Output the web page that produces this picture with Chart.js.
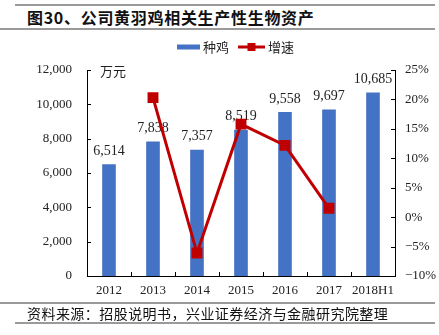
<!DOCTYPE html>
<html>
<head>
<meta charset="utf-8">
<script src="https://cdn.jsdelivr.net/npm/chart.js@4/dist/chart.umd.min.js"></script>
<style>
  body { margin: 0; background: #fff; }
  #wrap { position: relative; width: 439px; height: 335px; overflow: hidden; }
  #wrap canvas { position: absolute; left: 0; top: 0; }
  .rule { position: absolute; height: 2px; background: #9a9a9a; }
  .txt { position: absolute; font-family: "Noto Sans CJK SC", sans-serif; color: #111; white-space: nowrap; }
</style>
</head>
<body>
<div id="wrap">
  <div class="rule" style="left:15px; top:4px; width:420px;"></div>
  <div class="txt" style="left:27px; top:6px; font-size:16px; line-height:22px; letter-spacing:0.7px; font-weight:bold;">图30、公司黄羽鸡相关生产性生物资产</div>
  <div class="rule" style="left:0; top:28px; width:435px;"></div>
  <canvas id="chart" width="439" height="335"></canvas>
  <div class="rule" style="left:0; top:302px; width:435px;"></div>
  <div class="txt" style="left:27px; top:304px; font-size:14px; line-height:18px; letter-spacing:0.45px;">资料来源：招股说明书，兴业证券经济与金融研究院整理</div>
  <div class="rule" style="left:15px; top:322px; width:420px;"></div>
</div>

<script>
// =======================================
// DATA
// =======================================

const years = ["2012", "2013", "2014", "2015", "2016", "2017", "2018H1"];

const breeders = [6514, 7838, 7357, 8519, 9558, 9697, 10685];   // 种鸡, 万元

const growth = [null, 20.3, -6.1, 15.8, 12.2, 1.5, null];      // 增速, %

const barColor = "#4472C4";
const lineColor = "#C00000";
const serif = "'Liberation Serif', 'Times New Roman', serif";
const cjk = "'Noto Sans CJK SC', sans-serif";


// =======================================
// EXTRA DRAWING (labels, ticks, legend)
// =======================================

const extras = {
    id: "extras",

    afterDatasetDraw(chart, args) {
        if (args.index !== 0) return;
        const ctx = chart.ctx;
        ctx.save();
        ctx.font = "14px " + serif;
        ctx.fillStyle = "#222";
        ctx.textAlign = "center";
        ctx.textBaseline = "middle";
        args.meta.data.forEach((bar, i) => {
            ctx.fillText(breeders[i].toLocaleString("en-US"), bar.x, bar.y - 13);
        });
        ctx.restore();
    },

    afterDraw(chart) {
        const ctx = chart.ctx;
        const a = chart.chartArea;
        const y = chart.scales.y, y1 = chart.scales.y1;

        ctx.save();
        ctx.strokeStyle = "#000";
        ctx.lineWidth = 1;
        ctx.beginPath();
        // inward ticks, left axis
        y.ticks.forEach((t, i) => {
            const py = Math.round(y.getPixelForTick(i)) + 0.5;
            ctx.moveTo(a.left, py); ctx.lineTo(a.left + 4, py);
        });
        // inward ticks, right axis
        y1.ticks.forEach((t, i) => {
            const py = Math.round(y1.getPixelForTick(i)) + 0.5;
            ctx.moveTo(a.right, py); ctx.lineTo(a.right - 4, py);
        });
        // category boundaries on x axis
        const step = (a.right - a.left) / years.length;
        for (let i = 1; i < years.length; i++) {
            const px = Math.round(a.left + step * i) + 0.5;
            ctx.moveTo(px, a.bottom); ctx.lineTo(px, a.bottom - 4);
        }
        ctx.stroke();

        // unit
        ctx.font = "13px " + cjk;
        ctx.fillStyle = "#222";
        ctx.textBaseline = "middle";
        ctx.textAlign = "left";
        ctx.fillText("万元", a.left + 13, a.top + 1);

        // legend
        const ly = 47;
        ctx.fillStyle = barColor;
        ctx.fillRect(177, ly - 2.5, 23, 5);
        ctx.fillStyle = "#222";
        ctx.fillText("种鸡", 203, ly);

        ctx.strokeStyle = lineColor;
        ctx.lineWidth = 3;
        ctx.beginPath();
        ctx.moveTo(238, ly); ctx.lineTo(265, ly);
        ctx.stroke();
        ctx.fillStyle = lineColor;
        ctx.fillRect(247.5, ly - 4, 8, 8);
        ctx.fillStyle = "#222";
        ctx.fillText("增速", 268, ly);
        ctx.restore();
    }
};


// =======================================
// CHART
// =======================================

new Chart(document.getElementById("chart"), {

    type: "bar",

    data: {
        labels: years,
        datasets: [
            {
                type: "bar",
                label: "种鸡",
                data: breeders,
                yAxisID: "y",
                backgroundColor: barColor,
                barPercentage: 0.31,
                categoryPercentage: 1,
                order: 2
            },
            {
                type: "line",
                label: "增速",
                data: growth,
                yAxisID: "y1",
                borderColor: lineColor,
                backgroundColor: lineColor,
                borderWidth: 3,
                pointStyle: "rect",
                pointRadius: 5.6,
                pointHoverRadius: 5.6,
                tension: 0,
                order: 1
            }
        ]
    },

    options: {
        responsive: false,
        animation: false,
        layout: {
            padding: { top: 70, left: 0, right: 0, bottom: 0 }
        },
        plugins: {
            legend: { display: false },
            tooltip: { enabled: false }
        },
        scales: {
            x: {
                grid: { display: false, drawTicks: false },
                border: { display: true, color: "#000", width: 1 },
                ticks: {
                    padding: 7,
                    autoSkip: false,
                    color: "#222",
                    font: { family: serif, size: 13 },
                    maxRotation: 0
                },
                afterFit: s => { s.height = 59; }
            },
            y: {
                position: "left",
                min: 0,
                max: 12000,
                grid: { display: false, drawTicks: false },
                border: { display: true, color: "#000", width: 1 },
                ticks: {
                    stepSize: 2000,
                    padding: 15,
                    color: "#222",
                    font: { family: serif, size: 13 },
                    callback: v => v.toLocaleString("en-US")
                },
                afterFit: s => { s.width = 87; }
            },
            y1: {
                position: "right",
                min: -10,
                max: 25,
                grid: { display: false, drawTicks: false },
                border: { display: true, color: "#000", width: 1 },
                ticks: {
                    stepSize: 5,
                    padding: 10,
                    color: "#222",
                    font: { family: serif, size: 13 },
                    callback: v => (v < 0 ? "\u2212" : "") + Math.abs(v) + "%"
                },
                afterFit: s => { s.width = 44; }
            }
        }
    },

    plugins: [extras]
});
</script>
</body>
</html>
